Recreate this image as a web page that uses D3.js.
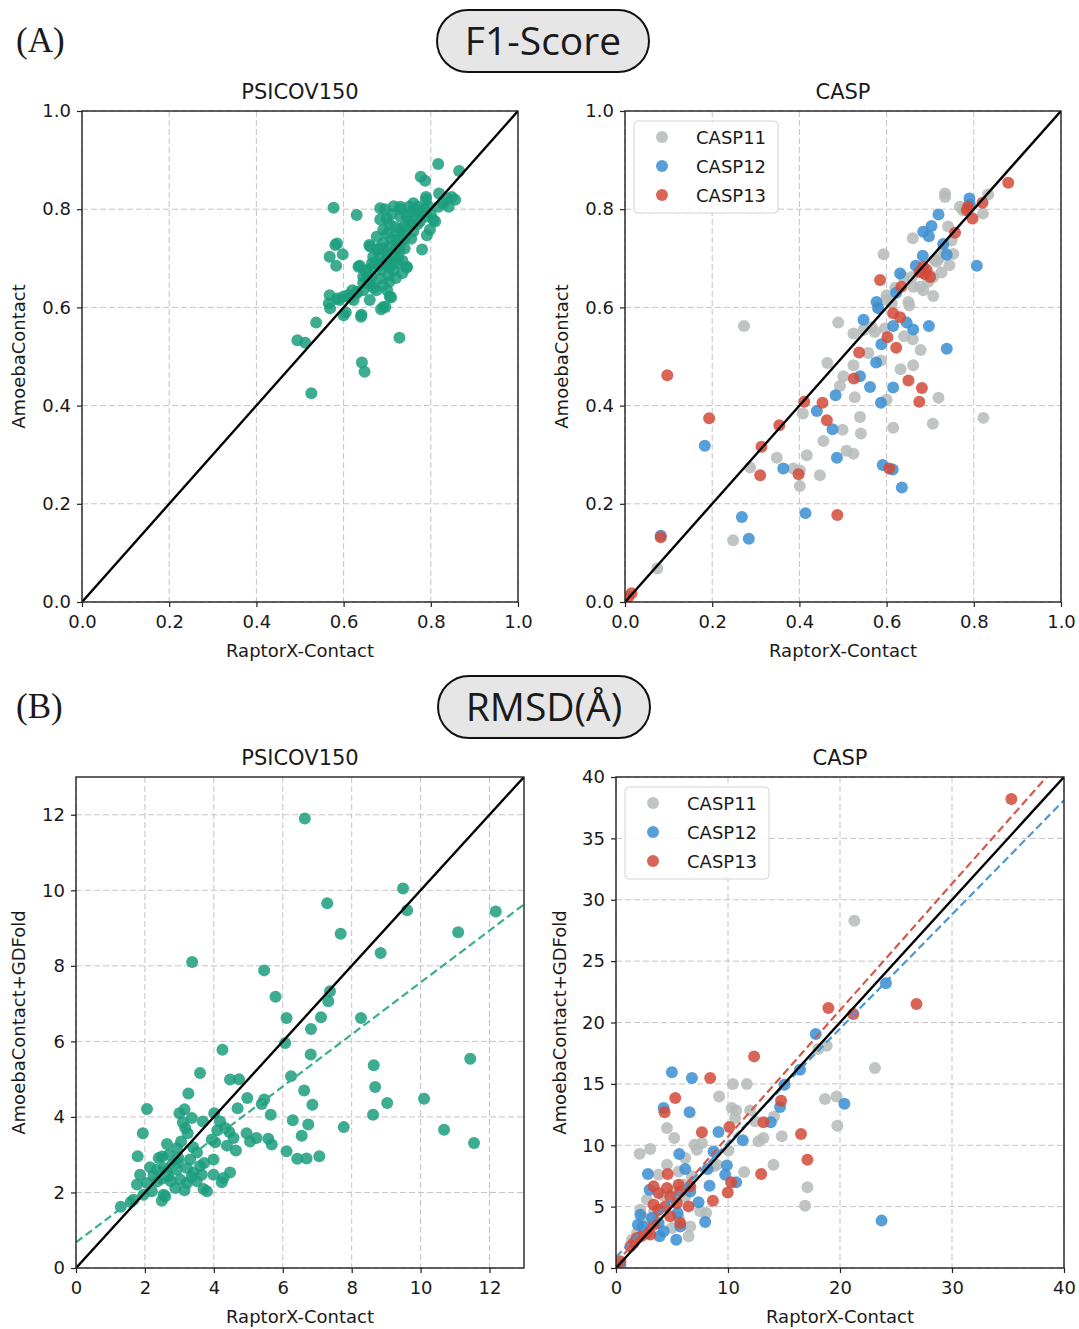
<!DOCTYPE html>
<html>
<head>
<meta charset="utf-8">
<script src="https://cdn.jsdelivr.net/npm/d3@7"></script>
<style>
  body { margin: 0; background: #fff; }
  text { font-family: "DejaVu Sans", sans-serif; fill: #1a1a1a; }
</style>
</head>
<body>
<svg id="chart" width="1079" height="1329"></svg>
<script>
'use strict';

// ---- data ----
var f1Ticks = [0, 0.2, 0.4, 0.6, 0.8, 1.0];
var rmsdPsicovTicks = [0, 2, 4, 6, 8, 10, 12];
var rmsdCaspXTicks = [0, 10, 20, 30, 40];
var rmsdCaspYTicks = [0, 5, 10, 15, 20, 25, 30, 35, 40];
var legendNames = ["CASP11", "CASP12", "CASP13"];

var f1Psicov = [
  [0.817,0.892],[0.865,0.878],[0.777,0.866],[0.787,0.858],[0.789,0.825],[0.789,0.819],[0.819,0.832],
  [0.837,0.822],[0.848,0.825],[0.856,0.819],[0.841,0.805],[0.818,0.805],[0.828,0.812],[0.806,0.778],
  [0.810,0.775],[0.798,0.758],[0.791,0.747],[0.780,0.718],[0.577,0.803],[0.630,0.788],[0.684,0.802],
  [0.715,0.806],[0.730,0.805],[0.760,0.812],[0.684,0.779],[0.699,0.781],[0.745,0.785],[0.768,0.785],
  [0.756,0.768],[0.775,0.775],[0.775,0.790],[0.765,0.800],[0.780,0.795],[0.790,0.785],[0.770,0.770],
  [0.760,0.755],[0.750,0.775],[0.740,0.765],[0.737,0.751],[0.722,0.737],[0.706,0.724],[0.691,0.731],
  [0.691,0.758],[0.718,0.764],[0.676,0.744],[0.676,0.717],[0.661,0.724],[0.659,0.727],[0.668,0.703],
  [0.683,0.703],[0.699,0.697],[0.714,0.707],[0.729,0.717],[0.722,0.690],[0.745,0.683],[0.745,0.681],
  [0.706,0.683],[0.687,0.676],[0.668,0.683],[0.653,0.676],[0.634,0.683],[0.637,0.685],[0.650,0.674],
  [0.645,0.663],[0.664,0.663],[0.683,0.659],[0.703,0.666],[0.705,0.652],[0.661,0.646],[0.669,0.640],
  [0.657,0.649],[0.645,0.635],[0.630,0.632],[0.630,0.629],[0.623,0.615],[0.610,0.625],[0.706,0.622],
  [0.709,0.620],[0.691,0.601],[0.686,0.596],[0.696,0.601],[0.641,0.585],[0.640,0.581],[0.581,0.727],
  [0.585,0.730],[0.568,0.703],[0.598,0.708],[0.583,0.685],[0.568,0.625],[0.566,0.608],[0.569,0.598],
  [0.585,0.618],[0.600,0.622],[0.590,0.615],[0.600,0.584],[0.605,0.590],[0.537,0.569],[0.494,0.533],
  [0.512,0.528],[0.728,0.538],[0.642,0.488],[0.648,0.469],[0.526,0.425],
  [0.710,0.740],[0.720,0.750],[0.730,0.760],[0.700,0.710],[0.720,0.720],[0.730,0.730],[0.740,0.740],
  [0.710,0.690],[0.690,0.690],[0.680,0.720],[0.700,0.750],[0.725,0.700],[0.735,0.695],[0.715,0.675],
  [0.730,0.785],[0.755,0.795],[0.770,0.805],[0.785,0.800],[0.800,0.790],[0.795,0.805],[0.750,0.805],
  [0.755,0.740],[0.740,0.720],[0.680,0.685],[0.665,0.690],[0.655,0.660],[0.645,0.650],[0.620,0.635],
  [0.615,0.620],[0.660,0.615],[0.675,0.635],[0.690,0.645],[0.700,0.635],[0.720,0.660],[0.735,0.670],
  [0.700,0.685],[0.690,0.720],[0.705,0.770],[0.710,0.790],[0.730,0.800],[0.695,0.800]
];

var f1Casp11 = [
  [0.734,0.832],[0.734,0.825],[0.833,0.830],[0.821,0.791],[0.768,0.805],[0.775,0.798],[0.741,0.765],
  [0.749,0.736],[0.753,0.709],[0.744,0.686],[0.715,0.693],[0.726,0.671],[0.707,0.623],[0.660,0.741],
  [0.593,0.708],[0.600,0.625],[0.650,0.611],[0.652,0.604],[0.661,0.642],[0.677,0.642],[0.684,0.635],
  [0.696,0.652],[0.707,0.662],[0.711,0.696],[0.658,0.662],[0.638,0.662],[0.600,0.615],[0.612,0.608],
  [0.273,0.562],[0.489,0.569],[0.524,0.547],[0.547,0.554],[0.566,0.560],[0.573,0.550],[0.596,0.557],
  [0.640,0.541],[0.660,0.535],[0.678,0.513],[0.558,0.507],[0.587,0.492],[0.524,0.482],[0.464,0.487],
  [0.493,0.440],[0.501,0.460],[0.632,0.474],[0.661,0.482],[0.527,0.417],[0.600,0.412],[0.719,0.416],
  [0.408,0.384],[0.539,0.377],[0.455,0.328],[0.499,0.351],[0.541,0.343],[0.615,0.355],[0.706,0.363],
  [0.822,0.375],[0.348,0.294],[0.417,0.299],[0.508,0.308],[0.524,0.302],[0.287,0.274],[0.386,0.272],
  [0.401,0.268],[0.447,0.258],[0.401,0.236],[0.248,0.126],[0.074,0.068],[0.690,0.670],[0.720,0.700],
  [0.730,0.720],[0.620,0.640],[0.580,0.600]
];

var f1Casp12 = [
  [0.790,0.822],[0.791,0.809],[0.719,0.789],[0.703,0.766],[0.684,0.754],[0.697,0.745],[0.730,0.729],
  [0.738,0.707],[0.807,0.685],[0.683,0.705],[0.667,0.685],[0.631,0.669],[0.622,0.630],[0.577,0.611],
  [0.581,0.598],[0.547,0.575],[0.615,0.562],[0.646,0.569],[0.661,0.555],[0.697,0.562],[0.588,0.525],
  [0.738,0.516],[0.576,0.488],[0.539,0.460],[0.562,0.438],[0.615,0.437],[0.587,0.406],[0.483,0.421],
  [0.440,0.389],[0.476,0.352],[0.363,0.272],[0.486,0.294],[0.591,0.279],[0.614,0.270],[0.635,0.233],
  [0.414,0.181],[0.183,0.318],[0.268,0.173],[0.284,0.129],[0.082,0.135]
];

var f1Casp13 = [
  [0.879,0.854],[0.820,0.813],[0.787,0.805],[0.784,0.798],[0.797,0.781],[0.757,0.752],[0.692,0.676],
  [0.688,0.668],[0.700,0.662],[0.684,0.683],[0.676,0.672],[0.585,0.656],[0.634,0.642],[0.615,0.588],
  [0.631,0.580],[0.602,0.539],[0.622,0.518],[0.537,0.508],[0.525,0.455],[0.650,0.451],[0.681,0.436],
  [0.675,0.408],[0.453,0.406],[0.463,0.370],[0.411,0.408],[0.354,0.360],[0.313,0.316],[0.310,0.258],
  [0.398,0.260],[0.606,0.272],[0.487,0.177],[0.193,0.374],[0.097,0.462],[0.082,0.132],[0.015,0.018],
  [0.008,0.010]
];

var rmsdPsicov = [
  [6.64,11.90],[9.49,10.05],[7.29,9.66],[9.61,9.47],[12.18,9.44],[7.68,8.85],[11.09,8.89],[8.84,8.34],
  [3.37,8.10],[5.46,7.88],[5.79,7.18],[7.37,7.33],[7.32,7.06],[6.11,6.62],[7.11,6.64],[8.27,6.62],
  [6.82,6.33],[6.07,5.96],[4.25,5.78],[6.81,5.65],[11.44,5.54],[8.64,5.37],[3.60,5.16],[4.47,4.99],
  [4.73,5.00],[6.24,5.08],[8.68,4.79],[3.26,4.62],[6.62,4.70],[4.97,4.50],[5.46,4.46],[5.39,4.34],
  [10.10,4.48],[9.03,4.37],[6.86,4.32],[2.06,4.21],[4.69,4.23],[5.65,4.06],[8.62,4.06],[4.01,4.10],
  [3.00,4.10],[3.15,4.20],[3.36,3.97],[3.68,3.88],[6.29,3.91],[6.74,3.80],[7.77,3.73],[10.68,3.66],
  [1.94,3.57],[3.17,3.71],[3.24,3.57],[4.18,3.88],[4.33,3.71],[4.57,3.44],[4.95,3.57],[5.05,3.35],
  [5.24,3.44],[5.58,3.42],[5.68,3.27],[6.55,3.50],[11.55,3.31],[3.94,3.40],[4.04,3.33],[4.38,3.24],
  [4.64,3.11],[2.64,3.28],[2.93,3.18],[3.51,3.06],[6.11,3.09],[6.42,2.89],[6.69,2.90],[7.06,2.96],
  [1.79,2.96],[2.40,2.91],[2.50,2.95],[2.97,2.91],[3.31,2.87],[3.99,2.87],[3.72,2.78],[2.15,2.67],
  [1.86,2.47],[2.35,2.60],[2.64,2.56],[2.93,2.60],[3.22,2.65],[3.41,2.52],[3.65,2.47],[3.99,2.47],
  [4.47,2.53],[4.28,2.38],[4.23,2.27],[1.77,2.21],[2.06,2.25],[2.35,2.29],[2.49,2.36],[2.68,2.43],
  [3.02,2.34],[3.22,2.25],[2.88,2.12],[3.15,2.06],[3.70,2.09],[3.80,2.03],[1.96,1.94],[2.20,2.03],
  [2.54,1.94],[2.49,1.78],[2.59,1.90],[1.67,1.81],[1.59,1.75],[1.30,1.62],[2.80,2.75],[3.05,3.35],
  [3.10,3.85],[2.75,2.30],[3.35,2.40],[2.95,2.80],[2.25,2.45],[3.50,2.30],[3.60,2.70],[4.10,3.65],
  [4.45,3.60],[2.70,3.00],[3.40,3.20],[2.55,2.65]
];

var rmsdCasp11 = [
  [21.28,28.29],[23.12,16.29],[18.81,18.11],[18.07,17.84],[18.66,13.77],[19.70,13.98],[19.76,11.59],
  [10.43,14.99],[11.68,14.99],[9.21,13.98],[10.34,13.03],[10.73,12.84],[11.98,12.84],[10.64,12.22],
  [12.42,11.95],[14.12,12.35],[12.72,10.32],[13.16,10.59],[14.80,10.73],[10.04,9.58],[7.22,9.64],
  [7.01,10.05],[3.06,9.69],[2.11,9.31],[4.55,11.40],[5.20,10.59],[14.06,8.42],[11.44,7.82],[17.09,6.57],
  [16.88,5.08],[9.00,8.42],[6.18,8.96],[4.55,8.42],[3.80,7.60],[5.59,7.87],[6.78,7.47],[5.14,6.24],
  [6.18,5.84],[7.52,4.62],[8.05,4.48],[6.63,3.39],[6.48,2.58],[4.99,3.26],[2.76,5.57],[2.17,4.75],
  [2.47,4.07],[1.87,2.85],[1.43,2.31],[8.71,8.28],[7.67,10.18],[6.0,6.8],[4.2,5.9],[3.4,4.6],[5.6,4.1]
];

var rmsdCasp12 = [
  [24.10,23.20],[17.83,19.06],[16.43,16.16],[15.04,14.93],[14.65,13.11],[13.82,11.87],[20.39,13.39],
  [23.71,3.86],[4.99,15.94],[6.78,15.48],[4.25,13.03],[6.57,12.68],[9.15,11.08],[11.32,10.40],
  [8.71,9.50],[5.65,9.29],[9.90,8.36],[9.75,7.60],[10.73,6.98],[8.17,8.06],[6.18,8.06],[2.85,7.66],
  [3.00,6.38],[8.35,6.71],[7.37,5.35],[7.96,3.75],[2.17,4.34],[1.96,3.53],[2.41,3.39],[3.21,4.07],
  [3.80,3.67],[4.25,2.99],[5.74,3.39],[5.38,2.31],[3.89,2.58],[5.50,4.48],[6.63,6.24],[0.39,0.27]
];

var rmsdCasp13 = [
  [35.30,38.20],[18.96,21.18],[21.19,20.69],[26.83,21.50],[12.33,17.24],[8.41,15.48],[5.29,13.85],
  [4.34,12.68],[14.74,13.63],[13.16,11.87],[7.67,11.05],[10.13,11.49],[16.52,10.92],[17.09,8.82],
  [12.96,7.66],[10.28,6.98],[9.98,6.16],[8.65,5.48],[4.61,7.66],[3.36,6.65],[3.80,6.11],[4.55,6.52],
  [4.84,5.84],[5.59,6.79],[5.74,6.24],[5.44,5.29],[3.36,5.16],[3.80,4.75],[4.40,5.02],[4.84,4.21],
  [5.74,3.67],[3.36,3.53],[6.63,6.65],[6.48,5.02],[2.76,2.85],[2.32,2.63],[1.87,2.44],[1.58,2.04],
  [1.28,1.76],[3.06,2.72],[0.39,0.54]
];

// fitted lines: [intercept, slope]
var rmsdPsicovFit = [0.68, 0.688];
var rmsdCasp12Fit = [0.9, 0.93];
var rmsdCasp13Fit = [0.4, 1.03];

// ---- styles ----
var teal = "#1b9e7e";
var grey = "#b5bbb9";
var blue = "#3a8ed2";
var red = "#d24a39";

var svg = d3.select("#chart");

function header(label, cx, cy, text) {
    svg.append("text")
        .attr("x", 16).attr("y", cy + 11)
        .style("font-family", "'Liberation Serif', serif")
        .style("font-size", "35px")
        .text(label);
    var w = 212, h = 62;
    svg.append("rect")
        .attr("x", cx - w / 2).attr("y", cy - h / 2)
        .attr("width", w).attr("height", h)
        .attr("rx", h / 2).attr("ry", h / 2)
        .attr("fill", "#e6e6e6").attr("stroke", "#111").attr("stroke-width", 2);
    svg.append("text")
        .attr("x", cx).attr("y", cy + 14)
        .attr("text-anchor", "middle")
        .style("font-family", "'Open Sans', sans-serif")
        .style("font-size", "39px")
        .text(text);
}

header("(A)", 543, 41, "F1-Score");
header("(B)", 544, 707, "RMSD(Å)");

var clipId = 0;

function panel(cfg) {
    var x = d3.scaleLinear().domain(cfg.domain).range([cfg.left, cfg.right]);
    var y = d3.scaleLinear().domain(cfg.domain).range([cfg.bottom, cfg.top]);
    var g = svg.append("g");
    var fmt = d3.format(cfg.fmt);

    // grid
    g.append("g").selectAll("line").data(cfg.xTicks).join("line")
        .attr("x1", d => x(d)).attr("x2", d => x(d))
        .attr("y1", cfg.top).attr("y2", cfg.bottom)
        .attr("stroke", "#c9c2c5").attr("stroke-width", 1).attr("stroke-dasharray", "6,3");
    g.append("g").selectAll("line").data(cfg.yTicks).join("line")
        .attr("y1", d => y(d)).attr("y2", d => y(d))
        .attr("x1", cfg.left).attr("x2", cfg.right)
        .attr("stroke", "#c9c2c5").attr("stroke-width", 1).attr("stroke-dasharray", "6,3");

    clipId++;
    svg.append("clipPath").attr("id", "clip" + clipId).append("rect")
        .attr("x", cfg.left).attr("y", cfg.top)
        .attr("width", cfg.right - cfg.left).attr("height", cfg.bottom - cfg.top);
    var plot = g.append("g").attr("clip-path", "url(#clip" + clipId + ")");

    cfg.series.forEach(function (s) {
        plot.append("g").selectAll("circle").data(s.data).join("circle")
            .attr("cx", d => x(d[0])).attr("cy", d => y(d[1]))
            .attr("r", 6)
            .attr("fill", s.color).attr("fill-opacity", 0.85);
    });

    var d0 = cfg.domain[0], d1 = cfg.domain[1];
    (cfg.fits || []).forEach(function (f) {
        plot.append("line")
            .attr("x1", x(d0)).attr("y1", y(f.fit[0] + f.fit[1] * d0))
            .attr("x2", x(d1)).attr("y2", y(f.fit[0] + f.fit[1] * d1))
            .attr("stroke", f.color).attr("stroke-width", 2.2).attr("stroke-dasharray", "8,4");
    });
    plot.append("line")
        .attr("x1", x(d0)).attr("y1", y(d0)).attr("x2", x(d1)).attr("y2", y(d1))
        .attr("stroke", "#000").attr("stroke-width", 2.4);

    // axes
    var xa = g.append("g").attr("transform", "translate(0," + cfg.bottom + ")")
        .call(d3.axisBottom(x).tickValues(cfg.xTicks).tickFormat(fmt).tickSize(5).tickPadding(7));
    var ya = g.append("g").attr("transform", "translate(" + cfg.left + ",0)")
        .call(d3.axisLeft(y).tickValues(cfg.yTicks).tickFormat(fmt).tickSize(5).tickPadding(6));
    [xa, ya].forEach(function (a) {
        a.select(".domain").remove();
        a.selectAll(".tick line").attr("stroke", "#222").attr("stroke-width", 1.2);
        a.selectAll(".tick text").style("font-size", "18px").style("font-family", "'DejaVu Sans', sans-serif").attr("fill", "#1a1a1a");
    });
    xa.selectAll(".tick text").attr("dy", "0.8em");

    g.append("rect")
        .attr("x", cfg.left).attr("y", cfg.top)
        .attr("width", cfg.right - cfg.left).attr("height", cfg.bottom - cfg.top)
        .attr("fill", "none").attr("stroke", "#222").attr("stroke-width", 1.4);

    var cx = (cfg.left + cfg.right) / 2, cy = (cfg.top + cfg.bottom) / 2;
    g.append("text").attr("x", cx).attr("y", cfg.top - 12)
        .attr("text-anchor", "middle").style("font-size", "21px").text(cfg.title);
    g.append("text").attr("x", cx).attr("y", cfg.bottom + 55)
        .attr("text-anchor", "middle").style("font-size", "18px").text("RaptorX-Contact");
    g.append("text")
        .attr("transform", "translate(" + cfg.ylabelX + "," + cy + ") rotate(-90)")
        .attr("text-anchor", "middle").style("font-size", "18px").text(cfg.ylabel);

    if (cfg.legend) {
        var lg = g.append("g").attr("transform", "translate(" + (cfg.left + 9) + "," + (cfg.top + 10) + ")");
        lg.append("rect").attr("width", 144).attr("height", 92).attr("rx", 4)
            .attr("fill", "#fff").attr("fill-opacity", 0.85)
            .attr("stroke", "#d4d4d4").attr("stroke-width", 1);
        cfg.series.forEach(function (s, i) {
            lg.append("circle").attr("cx", 28).attr("cy", 16 + i * 29).attr("r", 6)
                .attr("fill", s.color).attr("fill-opacity", 0.85);
            lg.append("text").attr("x", 62).attr("y", 16 + i * 29 + 7)
                .style("font-size", "18px").text(legendNames[i]);
        });
    }
}

panel({
    left: 82, right: 518, top: 111, bottom: 602, domain: [0, 1],
    xTicks: f1Ticks, yTicks: f1Ticks, fmt: ".1f",
    title: "PSICOV150", ylabel: "AmoebaContact", ylabelX: 25,
    series: [{ data: f1Psicov, color: teal }]
});

panel({
    left: 625, right: 1061, top: 111, bottom: 602, domain: [0, 1],
    xTicks: f1Ticks, yTicks: f1Ticks, fmt: ".1f",
    title: "CASP", ylabel: "AmoebaContact", ylabelX: 568, legend: true,
    series: [{ data: f1Casp11, color: grey }, { data: f1Casp12, color: blue }, { data: f1Casp13, color: red }]
});

panel({
    left: 76, right: 524, top: 777, bottom: 1268, domain: [0, 13],
    xTicks: rmsdPsicovTicks, yTicks: rmsdPsicovTicks, fmt: "d",
    title: "PSICOV150", ylabel: "AmoebaContact+GDFold", ylabelX: 25,
    series: [{ data: rmsdPsicov, color: teal }],
    fits: [{ fit: rmsdPsicovFit, color: "#3aae90" }]
});

panel({
    left: 616, right: 1064, top: 777, bottom: 1268, domain: [0, 40],
    xTicks: rmsdCaspXTicks, yTicks: rmsdCaspYTicks, fmt: "d",
    title: "CASP", ylabel: "AmoebaContact+GDFold", ylabelX: 566, legend: true,
    series: [{ data: rmsdCasp11, color: grey }, { data: rmsdCasp12, color: blue }, { data: rmsdCasp13, color: red }],
    fits: [{ fit: rmsdCasp13Fit, color: "#d25a4a" }, { fit: rmsdCasp12Fit, color: "#4a98d6" }]
});
</script>
</body>
</html>
